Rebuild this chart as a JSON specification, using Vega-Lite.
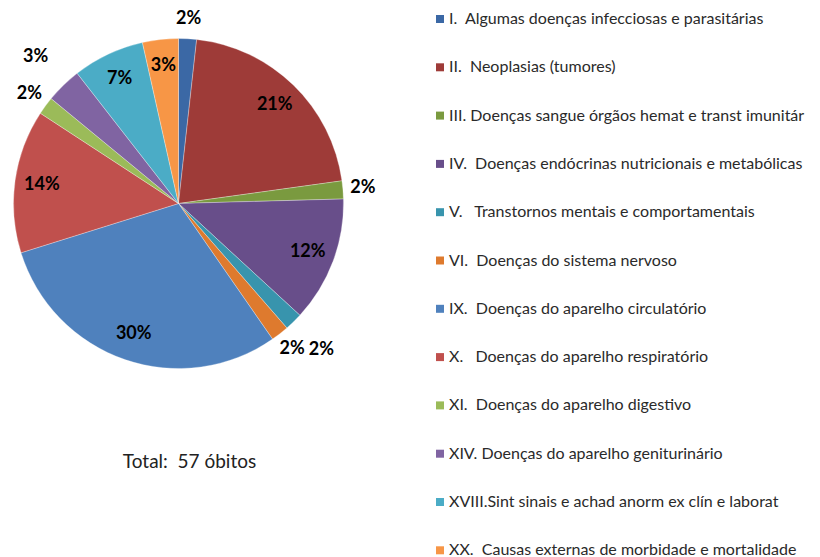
{
  "$schema": "https://vega.github.io/schema/vega-lite/v6.json",
  "width": 357,
  "height": 407,
  "autosize": {"type": "none"},
  "padding": {"left": 0, "top": 0, "right": 463, "bottom": 150},
  "background": "white",
  "config": {"view": {"stroke": null}, "font": "Lato"},
  "title": {"text": "Total:\u00a0 57 óbitos", "orient": "bottom", "anchor": "middle", "frame": "group", "offset": -106, "dx": 11, "fontSize": 19, "fontWeight": "normal", "color": "#222222", "font": "Lato"},
  "data": {"values": [
    {"ord": 1, "cat": "I.\u00a0 Algumas doenças infecciosas e parasitárias", "n": 1, "pct": "2%"},
    {"ord": 2, "cat": "II.\u00a0 Neoplasias (tumores)", "n": 12, "pct": "21%"},
    {"ord": 3, "cat": "III. Doenças sangue órgãos hemat e transt imunitár", "n": 1, "pct": "2%"},
    {"ord": 4, "cat": "IV.\u00a0 Doenças endócrinas nutricionais e metabólicas", "n": 7, "pct": "12%"},
    {"ord": 5, "cat": "V.\u00a0\u00a0 Transtornos mentais e comportamentais", "n": 1, "pct": "2%"},
    {"ord": 6, "cat": "VI.\u00a0 Doenças do sistema nervoso", "n": 1, "pct": "2%"},
    {"ord": 7, "cat": "IX.\u00a0 Doenças do aparelho circulatório", "n": 17, "pct": "30%"},
    {"ord": 8, "cat": "X.\u00a0\u00a0 Doenças do aparelho respiratório", "n": 8, "pct": "14%"},
    {"ord": 9, "cat": "XI.\u00a0 Doenças do aparelho digestivo", "n": 1, "pct": "2%"},
    {"ord": 10, "cat": "XIV. Doenças do aparelho geniturinário", "n": 2, "pct": "3%"},
    {"ord": 11, "cat": "XVIII.Sint sinais e achad anorm ex clín e laborat", "n": 4, "pct": "7%"},
    {"ord": 12, "cat": "XX.\u00a0 Causas externas de morbidade e mortalidade", "n": 2, "pct": "3%"}
  ]},
  "encoding": {
    "theta": {"field": "n", "type": "quantitative", "stack": true},
    "order": {"field": "ord", "type": "quantitative"}
  },
  "layer": [
    {
      "mark": {"type": "arc", "outerRadius": 165, "stroke": "white", "strokeWidth": 0.3},
      "encoding": {
        "color": {
          "field": "cat", "type": "nominal",
          "scale": {
            "domain": [
              "I.\u00a0 Algumas doenças infecciosas e parasitárias",
              "II.\u00a0 Neoplasias (tumores)",
              "III. Doenças sangue órgãos hemat e transt imunitár",
              "IV.\u00a0 Doenças endócrinas nutricionais e metabólicas",
              "V.\u00a0\u00a0 Transtornos mentais e comportamentais",
              "VI.\u00a0 Doenças do sistema nervoso",
              "IX.\u00a0 Doenças do aparelho circulatório",
              "X.\u00a0\u00a0 Doenças do aparelho respiratório",
              "XI.\u00a0 Doenças do aparelho digestivo",
              "XIV. Doenças do aparelho geniturinário",
              "XVIII.Sint sinais e achad anorm ex clín e laborat",
              "XX.\u00a0 Causas externas de morbidade e mortalidade"
            ],
            "range": ["#3B68A5", "#9E3B38", "#7A9A3F", "#684E8A", "#3894AD", "#DE7A2E", "#4F81BD", "#C0504D", "#9BBB59", "#8064A2", "#4BACC6", "#F79646"]
          },
          "legend": {
            "title": null,
            "orient": "none",
            "legendX": 432,
            "legendY": 11,
            "padding": 0,
            "symbolType": "square",
            "symbolSize": 64,
            "symbolStrokeWidth": 0,
            "symbolOffset": 0,
            "labelFontSize": 16,
            "labelFont": "Lato",
            "labelColor": "#2a2a2a",
            "labelLimit": 500,
            "labelOffset": 1,
            "rowPadding": 32.3
          }
        }
      }
    },
    {
      "mark": {"type": "text", "radius": 138, "fontSize": 18, "fontWeight": "bold", "font": "Lato", "color": "black"},
      "encoding": {
        "text": {
          "condition": {"test": "datum.ord == 2 || datum.ord == 4 || datum.ord == 7 || datum.ord == 8 || datum.ord == 11 || datum.ord == 12", "field": "pct"},
          "value": ""
        }
      }
    },
    {
      "mark": {"type": "text", "radius": 185, "fontSize": 18, "fontWeight": "bold", "font": "Lato", "color": "black"},
      "encoding": {
        "text": {
          "condition": {"test": "datum.ord == 1 || datum.ord == 3 || datum.ord == 6 || datum.ord == 9", "field": "pct"},
          "value": ""
        }
      }
    },
    {
      "mark": {"type": "text", "radius": 205, "fontSize": 18, "fontWeight": "bold", "font": "Lato", "color": "black"},
      "encoding": {
        "text": {
          "condition": {"test": "datum.ord == 5 || datum.ord == 10", "field": "pct"},
          "value": ""
        }
      }
    }
  ]
}
